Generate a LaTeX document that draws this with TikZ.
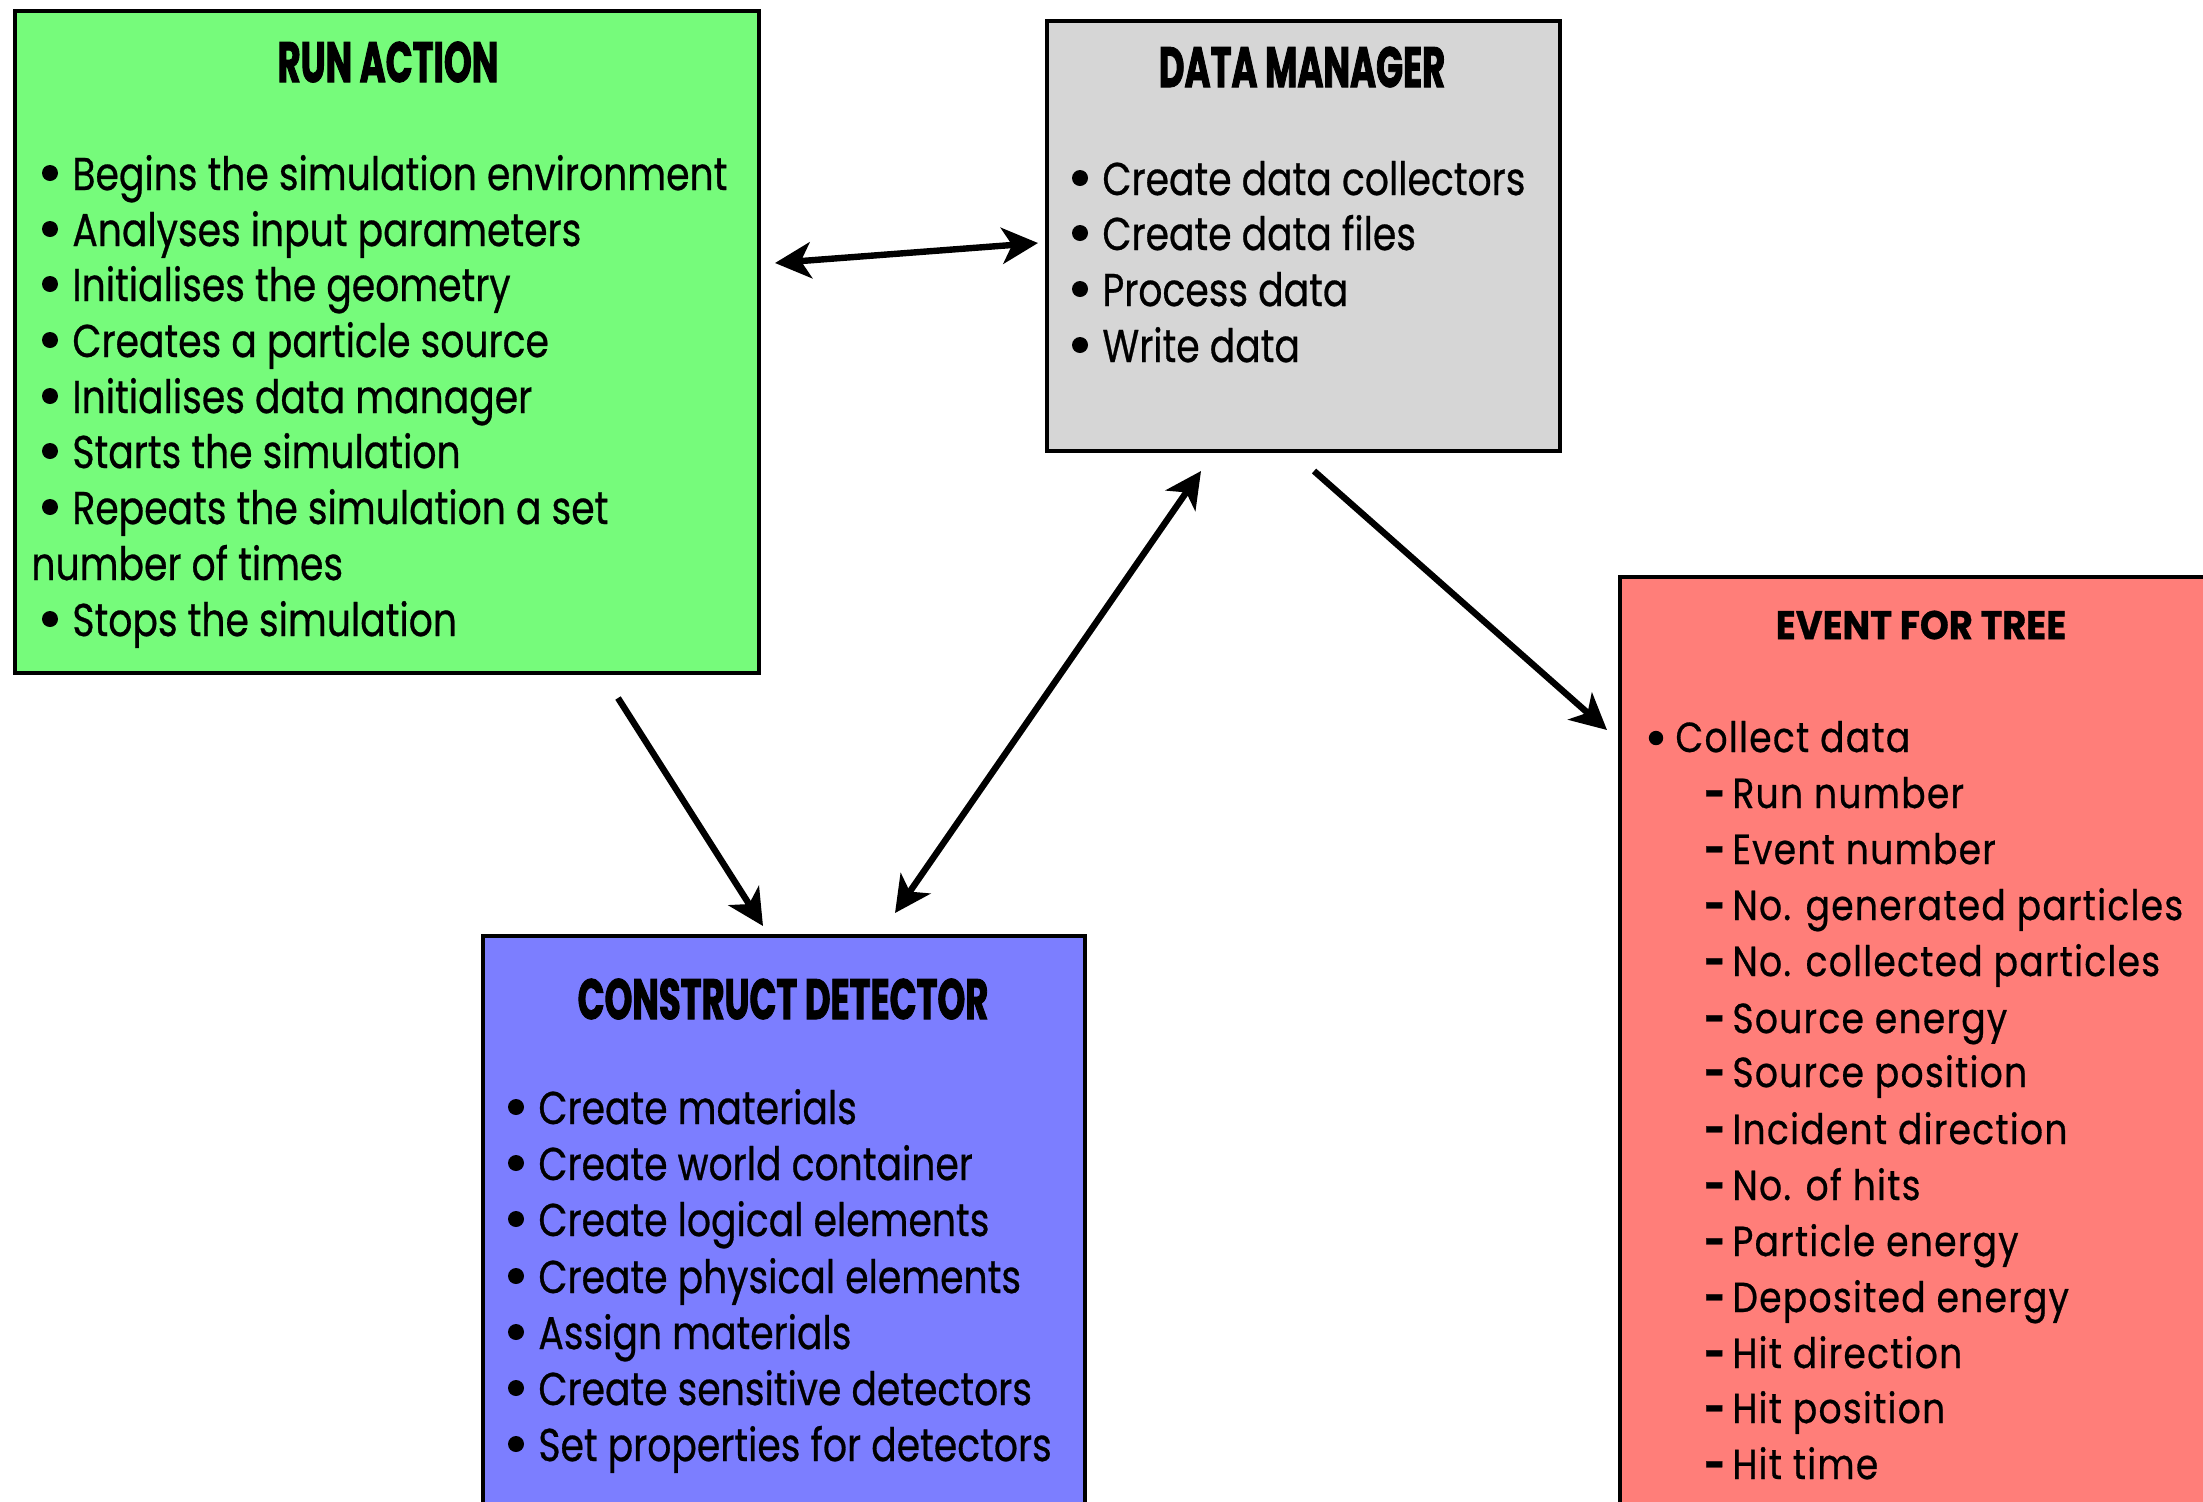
\documentclass[tikz,border=0pt]{standalone}
\usepackage{fontspec}
\usetikzlibrary{arrows.meta}
\newfontfamily\bodyfont{Poppins}[FakeStretch=0.82,FakeBold=0.6]
\newfontfamily\titlefont{Poppins}[FakeStretch=0.62,FakeBold=1.5]
\newfontfamily\evtitlefont{Poppins}[FakeStretch=0.92,FakeBold=0.8]
\newfontfamily\evfont{Poppins}[FakeStretch=0.86,LetterSpace=3,FakeBold=0.6]
\definecolor{ragreen}{HTML}{76FB7B}
\definecolor{dmgray}{HTML}{D6D6D6}
\definecolor{cdblue}{HTML}{7C7EFF}
\definecolor{evred}{HTML}{FF7E79}
\newcommand\dsh{\makebox[14pt][l]{\bfseries -}}
\tikzset{
  box/.style={draw=black, line width=2.2pt, inner sep=0pt, outer sep=0pt, anchor=north west},
  ttl/.style={inner sep=0pt, font=\titlefont\bfseries\fontsize{28.5}{30}\selectfont},
  evttl/.style={inner sep=0pt, font=\evtitlefont\bfseries\fontsize{20}{24}\selectfont},
  txt/.style={inner sep=0pt, anchor=base west, font=\bodyfont\fontsize{23}{28}\selectfont},
  evtxt/.style={inner sep=0pt, anchor=base west, font=\evfont\fontsize{21}{28}\selectfont},
  arr/.style={line width=3.2pt, -{Stealth[length=18pt,width=18pt,inset=5pt]}},
  darr/.style={line width=3.2pt, {Stealth[length=18pt,width=18pt,inset=5pt]}-{Stealth[length=18pt,width=18pt,inset=5pt]}}
}
\begin{document}
\begin{tikzpicture}[x=0.5pt,y=-0.5pt]
\useasboundingbox (0,0) rectangle (2203,1501);
\clip (0,0) rectangle (2203,1501);
\fill[white] (0,0) rectangle (2203,1501);
% boxes
\node[box, fill=ragreen, minimum width=372pt, minimum height=331pt] (ra) at (15,11) {};
\node[box, fill=dmgray, minimum width=256.5pt, minimum height=215pt] (dm) at (1047,21) {};
\node[box, fill=cdblue, minimum width=301pt, minimum height=297pt] (cd) at (483,936) {};
\node[box, fill=evred, minimum width=305pt, minimum height=477pt] (ev) at (1620,577) {};
% titles
\node[ttl] (rat) at (388,62) {RUN ACTION};
\node[ttl] (dmt) at (1302,67) {DATA MANAGER};
\node[ttl] (cdt) at (783,999) {CONSTRUCT DETECTOR};
\node[evttl] (evt) at (1921,625) {EVENT FOR TREE};
% run action
\node[txt] (ra1) at (72,190) {Begins the simulation environment};
\node[txt] (ra2) at (72,246) {Analyses input parameters};
\node[txt] (ra3) at (72,301) {Initialises the geometry};
\node[txt] (ra4) at (72,357) {Creates a particle source};
\node[txt] (ra5) at (72,413) {Initialises data manager};
\node[txt] (ra6) at (72,468) {Starts the simulation};
\node[txt] (ra7) at (72,524) {Repeats the simulation a set};
\node[txt] (ra8) at (31,580) {number of times};
\node[txt] (ra9) at (72,636) {Stops the simulation};
% data manager
\node[txt] (dm1) at (1102,195) {Create data collectors};
\node[txt] (dm2) at (1102,250) {Create data files};
\node[txt] (dm3) at (1102,306) {Process data};
\node[txt] (dm4) at (1102,362) {Write data};
% construct detector
\node[txt] (cd1) at (538,1124) {Create materials};
\node[txt] (cd2) at (538,1180) {Create world container};
\node[txt] (cd3) at (538,1236) {Create logical elements};
\node[txt] (cd4) at (538,1293) {Create physical elements};
\node[txt] (cd5) at (538,1349) {Assign materials};
\node[txt] (cd6) at (538,1405) {Create sensitive detectors};
\node[txt] (cd7) at (538,1461) {Set properties for detectors};
% event for tree
\node[evtxt] (ev0) at (1675,752) {Collect data};
\node[evtxt] (ev1) at (1704,808) {\dsh Run number};
\node[evtxt] (ev2) at (1704,864) {\dsh Event number};
\node[evtxt] (ev3) at (1704,920) {\dsh No. generated particles};
\node[evtxt] (ev4) at (1704,976) {\dsh No. collected particles};
\node[evtxt] (ev5) at (1704,1033) {\dsh Source energy};
\node[evtxt] (ev6) at (1704,1087) {\dsh Source position};
\node[evtxt] (ev7) at (1704,1144) {\dsh Incident direction};
\node[evtxt] (ev8) at (1704,1200) {\dsh No. of hits};
\node[evtxt] (ev9) at (1704,1256) {\dsh Particle energy};
\node[evtxt] (ev10) at (1704,1312) {\dsh Deposited energy};
\node[evtxt] (ev11) at (1704,1368) {\dsh Hit direction};
\node[evtxt] (ev12) at (1704,1423) {\dsh Hit position};
\node[evtxt] (ev13) at (1704,1479) {\dsh Hit time};
% bullets
\foreach \n in {ra1,ra2,ra3,ra4,ra5,ra6,ra7,ra9,dm1,dm2,dm3,dm4,cd1,cd2,cd3,cd4,cd5,cd6,cd7}
  \fill (\n.base west) ++(-22,-17) circle[radius=4pt];
\fill (ev0.base west) ++(-19,-14) circle[radius=3.6pt];
% connector ends
\coordinate (a1s) at (775,263);
\coordinate (a1e) at (1038,243);
\coordinate (a2s) at (618,698);
\coordinate (a2e) at (763,926);
\coordinate (a3s) at (895,913);
\coordinate (a3e) at (1201,471);
\coordinate (a4s) at (1314,471);
\coordinate (a4e) at (1607,730);
\draw[darr] (a1s) -- (a1e);
\draw[arr] (a2s) -- (a2e);
\draw[darr] (a3s) -- (a3e);
\draw[arr] (a4s) -- (a4e);
\end{tikzpicture}
\end{document}
